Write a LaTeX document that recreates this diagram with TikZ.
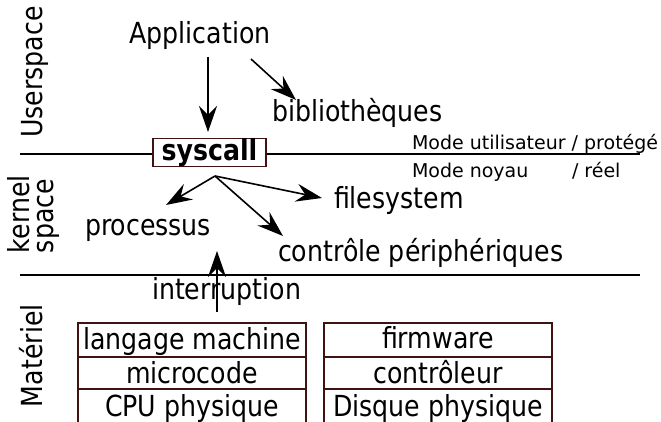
\documentclass[tikz,border=0pt]{standalone}
\usepackage{fontspec}
\setmainfont{DejaVu Sans}
\newfontfamily\condfont{DejaVu Sans}[FakeStretch=0.87]
\usetikzlibrary{arrows.meta}
\definecolor{boxbrown}{rgb}{0.25,0.07,0.07}
\tikzset{
  big/.style={font=\condfont\fontsize{29}{34}\selectfont, inner sep=0pt, outer sep=0pt},
  small/.style={font=\fontsize{19}{23}\selectfont, inner sep=0pt, outer sep=0pt},
  arr/.style={line width=1.6pt, -{Stealth[length=26pt,width=18pt,inset=9pt]}},
  sep/.style={line width=1.6pt},
  cell/.style={line width=1.3pt, draw=boxbrown},
}
\begin{document}
\begin{tikzpicture}[x=1pt,y=-1pt]
\useasboundingbox (0,0) rectangle (661,422);
% rotated side labels
\node[big, rotate=90, anchor=base west] (user) at (42,138) {Userspace};
\node[big, rotate=90, anchor=base west] (kern) at (29,253) {kernel};
\node[big, rotate=90, anchor=base west] (kspace) at (53,253) {space};
\node[big, rotate=90, anchor=base west] (mat) at (42,407) {Matériel};
% separator lines
\coordinate (la) at (20,154); \coordinate (ra) at (640,154);
\coordinate (lb) at (20,275); \coordinate (rb) at (640,275);
\draw[sep] (la) -- (ra);
\draw[sep] (lb) -- (rb);
% syscall box
\node[draw=boxbrown, fill=white, line width=1.3pt, minimum width=113pt, minimum height=27pt, inner sep=0pt,
      font=\condfont\fontsize{29}{34}\selectfont\bfseries] (sys) at (209.5,152.5) {syscall};
% texts
\node[big, anchor=base] (app) at (200,44) {Application};
\node[big, anchor=base west] (bib) at (272,122) {bibliothèques};
\node[big, anchor=base west] (fs) at (334,208) {filesystem};
\node[big, anchor=base west] (proc) at (85,235) {processus};
\node[big, anchor=base west] (ctrl) at (278,261) {contrôle périphériques};
\node[big, anchor=base west] (irq) at (152,299) {interruption};
\node[small, anchor=base west] (mu) at (412,150) {Mode utilisateur / protégé};
\node[small, anchor=base west] (mn) at (412,178) {Mode noyau};
\node[small, anchor=base west] (mr) at (572,178) {/ réel};
% arrows
\coordinate (appA) at (208,57); \coordinate (sysIn) at (208,132);
\coordinate (appB) at (251,59); \coordinate (bibIn) at (296,100);
\coordinate (sysOut) at (215,176);
\coordinate (procIn) at (166,205);
\coordinate (fsIn) at (322,198);
\coordinate (ctrlIn) at (283,236);
\coordinate (irqSrc) at (217,312); \coordinate (procUp) at (217,251);
\draw[arr] (appA) -- (sysIn);
\draw[arr] (appB) -- (bibIn);
\draw[arr] (sysOut) -- (procIn);
\draw[arr] (sysOut) -- (fsIn);
\draw[arr] (sysOut) -- (ctrlIn);
\draw[arr] (irqSrc) -- (procUp);
% hardware stacks
\draw[cell] (78,423) -- (78,323) -- (306,323) -- (306,423);
\draw[cell] (78,357) -- (306,357);
\draw[cell] (78,389) -- (306,389);
\draw[cell] (324,423) -- (324,323) -- (552,323) -- (552,423);
\draw[cell] (324,357) -- (552,357);
\draw[cell] (324,389) -- (552,389);
\node[big, anchor=base] (lm) at (192,349) {langage machine};
\node[big, anchor=base] (mc) at (192,383) {microcode};
\node[big, anchor=base] (cpu) at (192,416) {CPU physique};
\node[big, anchor=base] (fw) at (438,348) {firmware};
\node[big, anchor=base] (ct) at (438,383) {contrôleur};
\node[big, anchor=base] (dp) at (438,416) {Disque physique};
\end{tikzpicture}
\end{document}
